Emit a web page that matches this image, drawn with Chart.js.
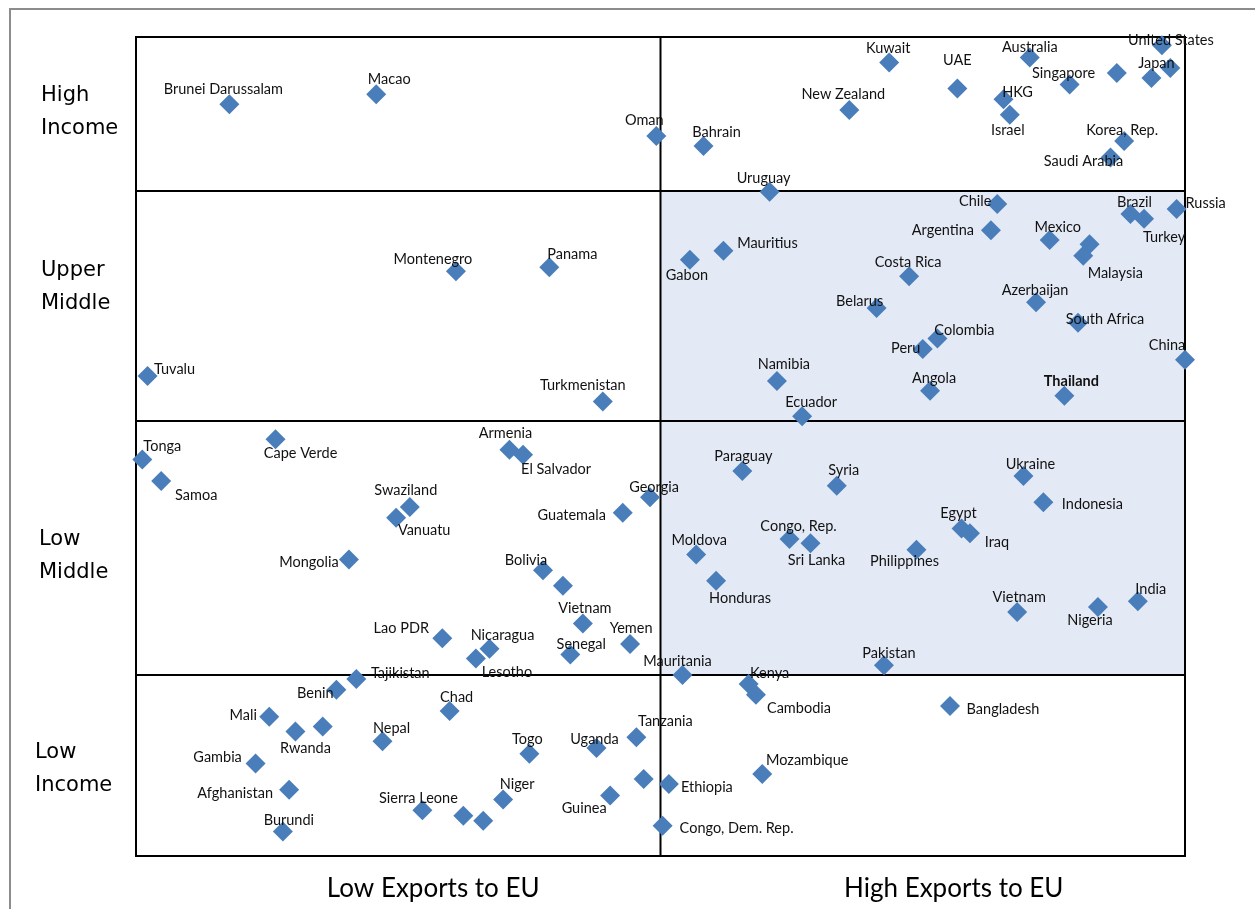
<!DOCTYPE html>
<html>
<head>
<meta charset="utf-8">
<title>Income group vs exports to EU</title>
<script src="https://cdn.jsdelivr.net/npm/chart.js@4"></script>
<style>
  html, body { margin: 0; padding: 0; background: #fff; }
  #wrap { width: 1255px; height: 909px; }
</style>
</head>
<body>
<div id="wrap"><canvas id="chart" width="1255" height="909"></canvas></div>
<script>
// Markers. '' = a marker with no label.
// exportScore: 0 = lowest exports to EU, 100 = highest
// incomeScore: 0 = poorest, 100 = richest
const countries = [
  // high income
  'Brunei Darussalam', 'Macao', 'Oman', 'Bahrain', 'Kuwait', 'UAE', 'New Zealand',
  'Australia', 'HKG', 'Israel', 'Singapore', '', 'Japan', 'United States', '',
  'Korea, Rep.', 'Saudi Arabia',
  // upper middle
  'Uruguay', 'Chile', 'Brazil', 'Turkey', 'Russia', 'Argentina', 'Mexico', '',
  'Malaysia', 'Mauritius', 'Gabon', 'Costa Rica', 'Azerbaijan', 'Belarus',
  'South Africa', 'Colombia', 'Peru', 'China', 'Namibia', 'Angola', 'Thailand',
  'Ecuador', 'Montenegro', 'Panama', 'Tuvalu', 'Turkmenistan',
  // low middle
  'Tonga', 'Samoa', 'Cape Verde', 'Armenia', 'El Salvador', 'Swaziland', 'Vanuatu',
  'Georgia', 'Guatemala', 'Mongolia', 'Bolivia', '', 'Vietnam', 'Yemen', 'Lao PDR',
  'Nicaragua', 'Lesotho', 'Senegal', 'Tajikistan', 'Paraguay', 'Syria', 'Ukraine',
  'Indonesia', 'Egypt', 'Iraq', 'Congo, Rep.', 'Sri Lanka', 'Philippines', 'Moldova',
  'Honduras', 'Vietnam', 'Nigeria', 'India', 'Pakistan', 'Mauritania', 'Kenya',
  // low income
  'Cambodia', 'Bangladesh', 'Mozambique', 'Ethiopia', 'Congo, Dem. Rep.', 'Benin',
  'Mali', 'Rwanda', '', 'Nepal', 'Chad', 'Gambia', 'Afghanistan', 'Burundi',
  'Sierra Leone', '', '', 'Niger', 'Togo', 'Uganda', 'Tanzania', 'Guinea', ''
];
const exportScore = [
  8.9, 22.9, 49.6, 54.1, 71.8, 78.3, 68.0,
  85.2, 82.7, 83.3, 89.0, 93.5, 96.8, 97.8, 98.6,
  94.2, 92.9,
  60.4, 82.1, 94.8, 96.1, 99.2, 81.5, 87.1, 90.9,
  90.3, 56.0, 52.8, 73.7, 85.8, 70.6,
  89.8, 76.4, 75.0, 100.0, 61.1, 75.7, 88.5,
  63.5, 30.5, 39.4, 1.1, 44.5,
  0.6, 2.4, 13.3, 35.6, 36.9, 26.1, 24.8,
  49.0, 46.4, 20.3, 38.8, 40.7, 42.6, 47.1, 29.2,
  33.7, 32.4, 41.4, 21.0, 57.8, 66.8, 84.6,
  86.5, 78.7, 79.5, 62.3, 64.3, 74.4, 53.4,
  55.3, 84.0, 91.7, 95.5, 71.3, 52.1, 58.4,
  59.1, 77.6, 59.7, 50.8, 50.2, 19.1,
  12.7, 15.2, 17.8, 23.5, 29.9, 11.4, 14.6, 14.0,
  27.3, 31.2, 33.1, 35.0, 37.5, 43.9, 47.7, 45.2, 48.4
];
const incomeScore = [
  91.8, 93.0, 87.9, 86.7, 96.9, 93.7, 91.1,
  97.5, 92.4, 90.5, 94.2, 95.6, 95.0, 99.0, 96.2,
  87.3, 85.3,
  81.1, 79.6, 78.4, 77.8, 79.0, 76.4, 75.2, 74.7,
  73.3, 73.9, 72.8, 70.8, 67.6, 66.9,
  65.1, 63.2, 61.9, 60.6, 58.0, 56.8, 56.2,
  53.7, 71.4, 71.9, 58.6, 55.5,
  48.4, 45.8, 50.9, 49.6, 49.0, 42.6, 41.3,
  43.8, 41.9, 36.2, 34.9, 33.0, 28.4, 25.9, 26.6,
  25.3, 24.1, 24.6, 21.6, 47.0, 45.2, 46.4,
  43.2, 40.0, 39.4, 38.7, 38.2, 37.4, 36.8,
  33.6, 29.8, 30.4, 31.1, 23.3, 22.1, 21.0,
  19.7, 18.3, 10.0, 8.8, 3.7, 20.3,
  17.0, 15.2, 15.8, 14.0, 17.7, 11.3, 8.1, 3.0,
  5.6, 4.9, 4.3, 6.9, 12.5, 13.2, 14.5, 7.4, 9.4
];

const exportSplit = 50;
const incomeBreaks = [22.1, 53.1, 81.2];
const incomeGroups = [['Low', 'Income'], ['Low', 'Middle'], ['Upper', 'Middle'], ['High', 'Income']];
const exportGroups = ['Low Exports to EU', 'High Exports to EU'];
const highlighted = ['Thailand'];

// ---- layout only below this line ----

// label position relative to its marker, in pixels [dx, dy]
const labelNudge = {
  'Brunei Darussalam': [-6, -16], 'Macao': [13, -16], 'Oman': [-12, -17], 'Bahrain': [13, -15],
  'Kuwait': [-1, -15], 'UAE': [0, -29], 'New Zealand': [-6, -17], 'Australia': [0, -11],
  'HKG': [14, -8], 'Israel': [-2, 15], 'Singapore': [-6, -12], 'Japan': [5, -16],
  'United States': [9, -6], 'Korea, Rep.': [-2, -12], 'Saudi Arabia': [-27, 3],
  'Uruguay': [-6, -14], 'Chile': [-22, -4], 'Brazil': [4, -13], 'Turkey': [20, 18],
  'Russia': [29, -7], 'Argentina': [-48, -1], 'Mexico': [8, -14], 'Malaysia': [32, 17],
  'Mauritius': [44, -8], 'Gabon': [-3, 15], 'Costa Rica': [-1, -15], 'Azerbaijan': [-1, -13],
  'Belarus': [-17, -8], 'South Africa': [27, -5], 'Colombia': [27, -9], 'Peru': [-17, -2],
  'China': [-18, -15], 'Namibia': [7, -18], 'Angola': [4, -13], 'Thailand': [7, -15],
  'Ecuador': [9, -15], 'Montenegro': [-23, -13], 'Panama': [23, -14], 'Tuvalu': [27, -8],
  'Turkmenistan': [-20, -17], 'Tonga': [20, -14], 'Samoa': [35, 13], 'Cape Verde': [25, 13],
  'Armenia': [-4, -17], 'El Salvador': [33, 14], 'Swaziland': [-4, -18], 'Vanuatu': [28, 12],
  'Georgia': [4, -11], 'Guatemala': [-51, 1], 'Mongolia': [-40, 2], 'Bolivia': [-17, -11],
  'Vietnam': [2, -16], 'Yemen': [1, -17], 'Lao PDR': [-41, -11], 'Nicaragua': [13, -14],
  'Lesotho': [31, 13], 'Senegal': [11, -11], 'Tajikistan': [44, -7], 'Paraguay': [1, -16],
  'Syria': [7, -16], 'Ukraine': [7, -13], 'Indonesia': [49, 1], 'Egypt': [-3, -16],
  'Iraq': [27, 8], 'Congo, Rep.': [9, -14], 'Sri Lanka': [6, 16], 'Philippines': [-12, 11],
  'Moldova': [3, -15], 'Honduras': [24, 17], 'Nigeria': [-8, 12], 'India': [13, -13],
  'Pakistan': [5, -13], 'Mauritania': [-5, -15], 'Kenya': [21, -12], 'Cambodia': [43, 13],
  'Bangladesh': [53, 2], 'Mozambique': [45, -15], 'Ethiopia': [38, 2],
  'Congo, Dem. Rep.': [74, 2], 'Benin': [-21, 3], 'Mali': [-26, -2], 'Rwanda': [10, 16],
  'Nepal': [9, -14], 'Chad': [7, -15], 'Gambia': [-38, -7], 'Afghanistan': [-54, 3],
  'Burundi': [6, -12], 'Sierra Leone': [-4, -13], 'Niger': [14, -16], 'Togo': [-2, -15],
  'Uganda': [-2, -10], 'Tanzania': [29, -17], 'Guinea': [-26, 12]
};

// left-hand group names: x of the text, shift from band centre (bottom band first)
const groupTextX = [35, 39, 41, 41];
const groupTextShift = [3, 7, -19, -2];
// bottom group names: shift from column centre
const columnTextShift = [35, 31];

const quadrantPlugin = {
  id: 'quadrants',
  beforeDraw(chart) {
    const ctx = chart.ctx;
    ctx.save();
    ctx.fillStyle = '#fff';
    ctx.fillRect(0, 0, chart.width, chart.height);
    // outer grey frame of the original figure
    ctx.strokeStyle = '#8c8c8c';
    ctx.lineWidth = 2;
    ctx.beginPath();
    ctx.moveTo(10, chart.height);
    ctx.lineTo(10, 9);
    ctx.lineTo(chart.width, 9);
    ctx.stroke();
    ctx.restore();
  },
  beforeDatasetsDraw(chart) {
    const { ctx, scales: { x, y } } = chart;
    const xL = x.getPixelForValue(0), xM = x.getPixelForValue(exportSplit), xR = x.getPixelForValue(100);
    const yT = y.getPixelForValue(100), yB = y.getPixelForValue(0);
    ctx.save();
    // shaded: high exports, middle income
    ctx.fillStyle = '#e4eaf5';
    const y1 = y.getPixelForValue(incomeBreaks[2]), y0 = y.getPixelForValue(incomeBreaks[0]);
    ctx.fillRect(xM, y1, xR - xM, y0 - y1);

    ctx.strokeStyle = '#000';
    ctx.lineWidth = 2;
    ctx.strokeRect(xL, yT, xR - xL, yB - yT);
    ctx.beginPath();
    ctx.moveTo(xM, yT);
    ctx.lineTo(xM, yB);
    incomeBreaks.forEach(v => {
      const py = Math.round(y.getPixelForValue(v));
      ctx.moveTo(xL, py);
      ctx.lineTo(xR, py);
    });
    ctx.stroke();

    // income group names on the left
    ctx.fillStyle = '#000';
    ctx.font = '21px "DejaVu Sans"';
    ctx.textAlign = 'left';
    ctx.textBaseline = 'middle';
    const bands = [0, ...incomeBreaks, 100];
    incomeGroups.forEach((lines, i) => {
      const mid = (y.getPixelForValue(bands[i]) + y.getPixelForValue(bands[i + 1])) / 2 + groupTextShift[i];
      ctx.fillText(lines[0], groupTextX[i], mid - 16);
      ctx.fillText(lines[1], groupTextX[i], mid + 17);
    });

    // export group names at the bottom
    ctx.font = '26px Lato';
    ctx.textAlign = 'center';
    const splits = [0, exportSplit, 100];
    exportGroups.forEach((txt, i) => {
      const mid = (x.getPixelForValue(splits[i]) + x.getPixelForValue(splits[i + 1])) / 2;
      ctx.fillText(txt, mid + columnTextShift[i], yB + 33);
    });
    ctx.restore();
  },
  afterDatasetsDraw(chart) {
    const ctx = chart.ctx;
    const meta = chart.getDatasetMeta(0);
    ctx.save();
    ctx.fillStyle = '#111';
    ctx.textAlign = 'center';
    ctx.textBaseline = 'middle';
    meta.data.forEach((pt, i) => {
      const name = countries[i];
      if (!name) return;
      const nudge = labelNudge[name] || [0, -15];
      ctx.font = (highlighted.includes(name) ? 'bold ' : '') + '14.5px Lato';
      ctx.fillText(name, pt.x + nudge[0], pt.y + nudge[1] + 1);
    });
    ctx.restore();
  }
};

new Chart(document.getElementById('chart'), {
  type: 'scatter',
  data: {
    datasets: [{
      label: 'Countries',
      data: countries.map((c, i) => ({ x: exportScore[i], y: incomeScore[i] })),
      pointStyle: 'rectRot',
      pointRadius: 10,
      pointHoverRadius: 10,
      backgroundColor: '#4a7ebb',
      borderColor: '#4a7ebb',
      borderWidth: 0,
      clip: false
    }]
  },
  options: {
    responsive: false,
    animation: false,
    devicePixelRatio: 1,
    layout: { padding: { left: 136, top: 37, right: 70, bottom: 53 } },
    scales: {
      x: { type: 'linear', min: 0, max: 100, display: false },
      y: { type: 'linear', min: 0, max: 100, display: false }
    },
    plugins: {
      legend: { display: false },
      tooltip: { enabled: false }
    }
  },
  plugins: [quadrantPlugin]
});
</script>
</body>
</html>
